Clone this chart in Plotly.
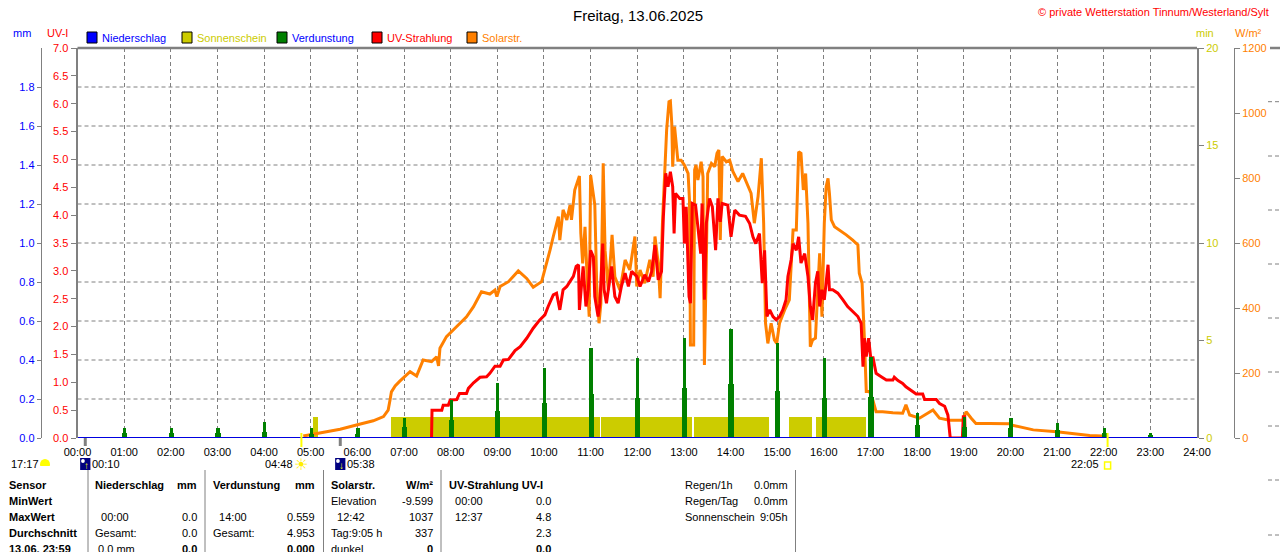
import plotly.graph_objects as go

W, H = 1280, 552
FONT = "Liberation Sans, Arial, sans-serif"
GRAU = "#808080"
BLAU = "#0000ff"
GELB = "#cccc00"
GRUEN = "#008000"
ROT = "#ff0000"
ORANGE = "#ff8000"

# ---------- Daten ----------
hours = list(range(25))
hour_labels = [f"{h:02d}:00" for h in hours]

# Solarstrahlung W/m²
solar_t = [4.84, 5.13, 5.63, 5.98, 6.34, 6.56, 6.66, 6.70, 6.73, 6.81, 6.91, 7.13, 7.27, 7.41,
           7.59, 7.70, 7.74, 7.77, 7.91, 8.13, 8.34, 8.49, 8.66, 8.84, 8.95, 8.99, 9.06, 9.24,
           9.45, 9.63, 9.77, 9.95, 10.06, 10.13, 10.20, 10.31, 10.34, 10.41, 10.49, 10.56, 10.59,
           10.66, 10.76, 10.79, 10.83, 10.88, 10.93, 10.97, 11.00, 11.04, 11.09, 11.13, 11.18,
           11.22, 11.27, 11.31, 11.38, 11.46, 11.52, 11.63, 11.74, 11.84, 11.95, 11.99, 12.06,
           12.16, 12.27, 12.34, 12.38, 12.45, 12.49, 12.54, 12.59, 12.63, 12.68, 12.71, 12.74,
           12.76, 12.80, 12.84, 12.87, 12.94, 13.01, 13.09, 13.12, 13.14, 13.21, 13.23, 13.26,
           13.30, 13.37, 13.41, 13.44, 13.48, 13.51, 13.59, 13.66, 13.71, 13.75, 13.78, 13.82,
           13.91, 13.98, 14.05, 14.16, 14.26, 14.37, 14.44, 14.51, 14.59, 14.66, 14.71, 14.75,
           14.80, 14.87, 14.94, 14.99, 15.05, 15.16, 15.26, 15.34, 15.41, 15.46, 15.51, 15.56,
           15.61, 15.66, 15.71, 15.76, 15.82, 15.87, 15.91, 15.96, 16.01, 16.05, 16.09, 16.12,
           16.16, 16.23, 16.34, 16.48, 16.62, 16.73, 16.76, 16.82, 16.87, 16.91, 16.98, 17.05,
           17.12, 17.26, 17.48, 17.69, 17.76, 17.84, 18.05, 18.34, 18.48, 18.69, 18.98, 19.05,
           19.16, 19.26, 19.55, 19.98, 20.02, 20.27, 20.49, 20.99, 21.28, 21.70, 21.95, 21.98]
solar_w = [6, 14, 27, 40, 53, 66, 86, 117, 142, 160, 175, 204, 191, 240,
           235, 250, 222, 276, 312, 343, 373, 404, 450, 443, 455, 435, 466, 481,
           514, 491, 464, 481, 537, 578, 620, 681, 609, 702, 671, 717, 671,
           763, 806, 630, 537, 650, 476, 373, 809, 763, 717, 476, 353,
           414, 845, 578, 455, 625, 496, 455, 548, 517, 620, 466, 517,
           476, 548, 496, 620, 537, 430, 661, 845, 948, 1035, 1037, 968,
           835, 958, 886, 855, 855, 840, 814, 732, 286, 286, 825, 840,
           794, 850, 804, 225, 537, 814, 845, 835, 876, 886, 609, 866,
           850, 855, 820, 789, 814, 773, 753, 661, 743, 861, 661, 353,
           291, 353, 302, 291, 353, 394, 425, 640, 640, 881, 876, 763,
           814, 661, 281, 302, 307, 455, 568, 373, 661, 773, 799, 753,
           671, 650, 640, 625, 609, 594, 507, 476, 302, 143, 143, 117,
           81, 81, 78, 76, 102, 71, 61, 86, 61, 55, 55, 81,
           61, 45, 45, 44, 40, 32, 25, 19, 14, 8, 6, 0]

# UV-Index
uv_t = [7.59, 7.60, 7.81, 7.84, 7.95, 7.99, 8.13, 8.19, 8.34, 8.38, 8.49, 8.63, 8.77, 8.84,
        8.95, 9.06, 9.13, 9.24, 9.38, 9.49, 9.63, 9.77, 9.91, 10.02, 10.09, 10.20, 10.27,
        10.34, 10.41, 10.49, 10.56, 10.63, 10.69, 10.74, 10.76, 10.81, 10.84, 10.90, 10.95,
        11.00, 11.06, 11.09, 11.16, 11.20, 11.26, 11.29, 11.34, 11.45, 11.52, 11.59, 11.66,
        11.74, 11.81, 11.88, 11.99, 12.06, 12.16, 12.24, 12.31, 12.38, 12.45, 12.52, 12.56,
        12.61, 12.66, 12.71, 12.73, 12.76, 12.79, 12.82, 12.91, 12.98, 13.01, 13.05, 13.11,
        13.14, 13.18, 13.25, 13.30, 13.36, 13.39, 13.44, 13.48, 13.55, 13.61, 13.68, 13.73,
        13.78, 13.82, 13.94, 14.01, 14.09, 14.19, 14.32, 14.41, 14.48, 14.54, 14.62, 14.68,
        14.73, 14.78, 14.84, 14.91, 14.98, 15.05, 15.12, 15.19, 15.23, 15.30, 15.34, 15.41,
        15.46, 15.51, 15.59, 15.66, 15.71, 15.76, 15.82, 15.87, 15.91, 15.96, 16.01, 16.09,
        16.12, 16.19, 16.30, 16.41, 16.51, 16.62, 16.73, 16.80, 16.84, 16.87, 16.91, 16.96,
        17.01, 17.05, 17.12, 17.23, 17.34, 17.48, 17.51, 17.59, 17.69, 17.76, 17.91, 17.98,
        18.12, 18.16, 18.41, 18.48, 18.59, 18.66, 18.71, 18.97, 18.99, 19.02, 19.03]
uv_i = [0.0, 0.50, 0.50, 0.59, 0.59, 0.68, 0.69, 0.80, 0.80, 0.89, 0.99, 1.09, 1.10, 1.16,
        1.29, 1.29, 1.40, 1.41, 1.57, 1.64, 1.79, 1.97, 2.12, 2.21, 2.36, 2.57, 2.60,
        2.30, 2.66, 2.72, 2.81, 2.90, 3.08, 3.11, 2.30, 2.72, 3.08, 2.36, 2.66,
        3.37, 3.25, 2.54, 2.18, 2.42, 3.49, 2.66, 2.42, 3.08, 2.54, 2.42, 2.72,
        2.96, 2.72, 2.99, 2.90, 2.72, 2.93, 2.81, 2.99, 3.46, 2.84, 2.99, 3.97,
        4.75, 4.51, 4.78, 4.69, 4.51, 3.67, 4.39, 4.30, 4.30, 3.49, 4.15, 2.54,
        2.42, 4.21, 4.18, 3.79, 3.31, 4.21, 2.48, 3.85, 4.30, 4.15, 3.37, 4.30,
        3.88, 4.21, 4.18, 3.61, 4.09, 4.00, 3.98, 3.85, 3.61, 3.49, 3.67, 2.78,
        3.37, 2.18, 2.30, 2.18, 2.12, 2.18, 2.30, 2.48, 2.90, 3.20, 3.49, 3.37,
        3.61, 3.14, 3.31, 2.90, 2.36, 2.12, 2.78, 2.99, 2.36, 2.66, 2.48, 3.11,
        2.66, 2.66, 2.60, 2.48, 2.36, 2.27, 2.18, 2.06, 1.28, 1.79, 1.46, 1.79,
        1.40, 1.46, 1.16, 1.10, 1.04, 1.04, 1.09, 1.03, 0.98, 0.92, 0.83, 0.79,
        0.79, 0.69, 0.69, 0.62, 0.57, 0.41, 0.0, 0.0, 0.38, 0.38, 0.0]

# Verdunstung mm (stündlich: Spitze und Sockel)
evap_h = list(range(24))
evap_peak = [0.0, 0.053, 0.053, 0.053, 0.080, 0.053, 0.053, 0.104, 0.195, 0.280, 0.357, 0.460,
             0.409, 0.511, 0.559, 0.486, 0.409, 0.417, 0.130, 0.109, 0.104, 0.078, 0.053, 0.027]
evap_base = [0.0, 0.027, 0.027, 0.027, 0.030, 0.020, 0.020, 0.058, 0.092, 0.140, 0.178, 0.226,
             0.204, 0.255, 0.277, 0.243, 0.204, 0.210, 0.067, 0.055, 0.050, 0.040, 0.027, 0.015]

# Sonnenschein min
sun_start = [5.033, 6.70, 11.22, 13.20, 15.25, 15.82]
sun_end = [5.148, 11.18, 13.17, 14.82, 15.74, 16.90]
sun_min = 1.06

# Niederschlag mm
rain_t = [0, 24]
rain_mm = [0.0, 0.0]

# Sonne / Mond Auf- und Untergang
sun_times = [4 + 48 / 60, 22 + 5 / 60]
sun_labels = ["04:48", "22:05"]
moon_times = [10 / 60, 5 + 38 / 60]
moon_labels = ["00:10", "05:38"]
moon_arrows = ["↑", "↓"]
moon_prev = "17:17"

# Tabelle
row_labels = ["Sensor", "MinWert", "MaxWert", "Durchschnitt", "13.06. 23:59"]
table_cols = [
    dict(name="Niederschlag", unit="mm", left=["", "\u00a0\u00a000:00", "Gesamt:", "\u00a00.0 mm"],
         right=["", "0.0", "0.0", "0.0"]),
    dict(name="Verdunstung", unit="mm", left=["", "\u00a0\u00a014:00", "Gesamt:", ""],
         right=["", "0.559", "4.953", "0.000"]),
    dict(name="Solarstr.", unit="W/m²", left=["Elevation", "\u00a0\u00a012:42", "Tag:9:05 h", "dunkel"],
         right=["-9.599", "1037", "337", "0"]),
    dict(name="UV-Strahlung UV-I", unit="", left=["\u00a0\u00a000:00", "\u00a0\u00a012:37", "", ""],
         right=["0.0", "4.8", "2.3", "0.0"]),
]
extra_labels = ["Regen/1h", "Regen/Tag", "Sonnenschein"]
extra_values = ["0.0mm", "0.0mm", "9:05h"]

legend_names = ["Niederschlag", "Sonnenschein", "Verdunstung", "UV-Strahlung", "Solarstr."]
legend_box = [BLAU, GELB, GRUEN, ROT, ORANGE]
legend_text = [BLAU, GELB, BLAU, ROT, ORANGE]

# ---------- Layout-Hilfen ----------
PL, PR, PT, PB = 77.5, 1197, 48, 438


def px(x):
    return x / W


def py(y):
    return 1 - y / H


annotations = []
shapes = []


def txt(x, y, s, color="black", size=11, anchor="left", bold=False, xref="paper"):
    annotations.append(dict(
        x=x if xref != "paper" else px(x), y=py(y), xref=xref, yref="paper",
        text=f"<b>{s}</b>" if bold else s, showarrow=False, xanchor=anchor, yanchor="middle",
        font=dict(color=color, size=size, family=FONT), borderpad=0))


# ---------- Traces ----------
fig = go.Figure()
fig.add_trace(go.Bar(x=[(a + b) / 2 for a, b in zip(sun_start, sun_end)],
                     y=[sun_min] * len(sun_start),
                     width=[b - a for a, b in zip(sun_start, sun_end)],
                     marker=dict(color=GELB, line=dict(width=0)), yaxis="y"))
fig.add_trace(go.Scatter(x=solar_t, y=solar_w, mode="lines",
                         line=dict(color=ORANGE, width=3), yaxis="y2"))
fig.add_trace(go.Scatter(x=uv_t, y=uv_i, mode="lines",
                         line=dict(color=ROT, width=3), yaxis="y3"))
fig.add_trace(go.Bar(x=evap_h, y=evap_base, width=0.11,
                     marker=dict(color=GRUEN, line=dict(width=0)), yaxis="y4"))
fig.add_trace(go.Bar(x=evap_h, y=evap_peak, width=0.07,
                     marker=dict(color=GRUEN, line=dict(width=0)), yaxis="y4"))
fig.add_trace(go.Scatter(x=rain_t, y=rain_mm, mode="lines",
                         line=dict(color="#0000e0", width=2), yaxis="y4"))

# horizontale Gitterlinien (10 Teilungen)
for k in range(1, 10):
    shapes.append(dict(type="line", xref="x domain", yref="y domain", x0=0, x1=1, y0=k / 10, y1=k / 10,
                       line=dict(color=GRAU, width=1, dash="4px,3px"), layer="below"))
# obere Rahmenlinie
shapes.append(dict(type="line", xref="paper", yref="paper", x0=px(PL), x1=px(PR), y0=py(PT), y1=py(PT),
                   line=dict(color=GRAU, width=2.5)))
# Rest des Nachbardiagramms am rechten Rand
shapes.append(dict(type="line", xref="paper", yref="paper", x0=px(1270), x1=1, y0=py(PT), y1=py(PT),
                   line=dict(color=GRAU, width=2.5)))
for yy in [101.7, 156, 210, 264, 318, 372, 426, 480, 535]:
    shapes.append(dict(type="line", xref="paper", yref="paper", x0=px(1268), x1=1, y0=py(yy), y1=py(yy),
                       line=dict(color=GRAU, width=1, dash="4px,3px")))

# Legende
lx = [87, 182, 277, 372, 467]
for x0, name, bc, tc in zip(lx, legend_names, legend_box, legend_text):
    shapes.append(dict(type="rect", xref="paper", yref="paper", x0=px(x0), x1=px(x0 + 10),
                       y0=py(43), y1=py(32), fillcolor=bc, line=dict(color="black", width=1)))
    txt(x0 + 14, 38, name, color=tc)

txt(22, 33, "mm", color=BLAU, anchor="center")
txt(57, 33, "UV-I", color=ROT, anchor="center")
txt(1205, 33, "min", color=GELB, anchor="center")
txt(1248, 33, "W/m²", color=ORANGE, anchor="center")
txt(638, 15, "Freitag, 13.06.2025", size=15, anchor="center")
txt(1270, 12, "© private Wetterstation Tinnum/Westerland/Sylt", color=ROT, anchor="right")

# Sonne / Mond
for t, lab in zip(sun_times, sun_labels):
    shapes.append(dict(type="line", xref="x", yref="paper", x0=t, x1=t, y0=py(433), y1=py(447),
                       line=dict(color="#ffff00", width=2)))
    txt(t - 0.16, 464, lab, anchor="right", xref="x")
txt(sun_times[0], 464, "☀", color="#ffee00", size=16, anchor="center", xref="x")
shapes.append(dict(type="rect", xref="x", yref="paper", x0=sun_times[1] - 0.065, x1=sun_times[1] + 0.065,
                   y0=py(469), y1=py(462), line=dict(color="#ffff00", width=1.5)))
for t, lab, arr in zip(moon_times, moon_labels, moon_arrows):
    shapes.append(dict(type="line", xref="x", yref="paper", x0=t, x1=t, y0=py(438), y1=py(446),
                       line=dict(color=GRAU, width=3)))
    shapes.append(dict(type="rect", xref="x", yref="paper", x0=t - 0.11, x1=t + 0.11,
                       y0=py(470), y1=py(458), fillcolor="#000080", line=dict(width=0)))
    shapes.append(dict(type="circle", xref="x", yref="paper", x0=t - 0.09, x1=t - 0.01,
                       y0=py(463), y1=py(459), fillcolor="white", line=dict(width=0)))
    txt(t + 0.02, 465, f"<b>{arr}</b>", color="#ffff00", size=10, anchor="center", xref="x")
    txt(t + 0.13, 464, lab, xref="x")
txt(10, 464, moon_prev)
shapes.append(dict(type="circle", xref="paper", yref="paper", x0=px(40), x1=px(50),
                   y0=py(470), y1=py(459), fillcolor="#ffff00", line=dict(width=0)))
shapes.append(dict(type="rect", xref="paper", yref="paper", x0=px(38), x1=px(52),
                   y0=py(472), y1=py(466), fillcolor="white", line=dict(width=0)))

# Tabelle
row_y = [485, 501, 517, 533, 549]
col_left = [94, 212, 330, 448]
col_right = [198, 316, 434, 552]
for xs in [88, 205, 323.5, 441, 795.5]:
    shapes.append(dict(type="line", xref="paper", yref="paper", x0=px(xs), x1=px(xs), y0=py(470), y1=0,
                       line=dict(color=GRAU, width=1)))
for yy, lab in zip(row_y, row_labels):
    txt(8, yy, lab, bold=True)
for c, xl, xr in zip(table_cols, col_left, col_right):
    txt(xl, row_y[0], c["name"], bold=True)
    if c["unit"]:
        txt(xr, row_y[0], c["unit"], bold=True, anchor="right")
    for i in range(4):
        if c["left"][i]:
            txt(xl, row_y[i + 1], c["left"][i])
        if c["right"][i]:
            txt(xr, row_y[i + 1], c["right"][i], anchor="right", bold=(i == 3))
for yy, lab, val in zip(row_y, extra_labels, extra_values):
    txt(684, yy, lab)
    txt(789, yy, val, anchor="right")

dom_y = [py(PB), py(PT)]
common = dict(showgrid=False, zeroline=False, automargin=False, ticks="outside",
              tickcolor=GRAU, linecolor=GRAU, showline=True, fixedrange=True)

fig.update_layout(
    width=W, height=H, template="none",
    margin=dict(l=0, r=0, t=0, b=0, pad=0),
    paper_bgcolor="white", plot_bgcolor="white",
    font=dict(family=FONT, size=11, color="black"),
    showlegend=False, barmode="overlay", bargap=0,
    xaxis=dict(domain=[px(PL), px(PR)], range=[0, 24], tickvals=hours, ticktext=hour_labels,
               showgrid=True, gridcolor=GRAU, gridwidth=1, griddash="4px,3px",
               zeroline=False, showline=False, ticks="outside", ticklen=4,
               tickcolor="rgba(0,0,0,0)", tickfont=dict(size=11, color="black"),
               automargin=False, fixedrange=True),
    yaxis=dict(domain=dom_y, range=[0, 20], side="right", anchor="x", tickvals=[0, 5, 10, 15, 20],
               tickfont=dict(color=GELB, size=11), ticklen=5, linewidth=2, **common),
    yaxis2=dict(overlaying="y", range=[0, 1200], side="right", anchor="free", position=px(1234),
                tickvals=[0, 200, 400, 600, 800, 1000, 1200],
                tickfont=dict(color=ORANGE, size=11), ticklen=5, linewidth=1, **common),
    yaxis3=dict(overlaying="y", range=[0, 7], side="left", anchor="x", dtick=0.5, tick0=0,
                tickformat=".1f", tickfont=dict(color=ROT, size=11), ticklen=5, linewidth=2, **common),
    yaxis4=dict(overlaying="y", range=[0, 2], side="left", anchor="free", position=px(40.7),
                tickvals=[i / 5 for i in range(10)], ticktext=[f"{i / 5:.1f}" for i in range(10)],
                tickfont=dict(color=BLAU, size=11), ticklen=4, linewidth=1, **common),
    annotations=annotations, shapes=shapes,
)

fig.write_html("out.html", config={"displayModeBar": False},
               post_script="document.body.style.margin='0';document.body.style.overflow='hidden';")
